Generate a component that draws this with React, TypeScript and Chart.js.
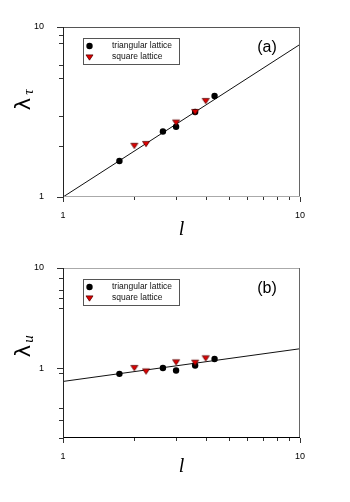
import React, { useEffect, useRef } from "react";
import { Chart, registerables } from "chart.js";

Chart.register(...registerables);

// Data
const lTriangular = [1.73, 2.64, 3.0, 3.61, 4.36];
const lSquare = [2.0, 2.24, 3.0, 3.61, 4.0];
const tauTriangular = [1.63, 2.43, 2.59, 3.16, 3.93];
const tauSquare = [2.0, 2.05, 2.74, 3.16, 3.67];
const uTriangular = [0.875, 1.0, 0.945, 1.06, 1.23];
const uSquare = [1.0, 0.925, 1.14, 1.13, 1.25];
const fitL = [1, 10];
const fitTau = [1.0, 7.9];
const fitU = [0.735, 1.56];
const xTicks = [1, 2, 3, 4, 5, 6, 7, 8, 9, 10];
const yTicksA = [1, 2, 3, 5, 6, 8, 9, 10];
const yTicksB = [0.2, 0.3, 0.4, 0.9, 1, 4, 5, 6, 8, 10];
const legendLabels = ["triangular lattice", "square lattice"];

const FONT = "'Liberation Sans', Arial, sans-serif";

type Panel = {
  height: number;
  yMin: number;
  yMax: number;
  yTicks: number[];
  tri: number[];
  sq: number[];
  fit: number[];
  padTop: number;
  xHeight: number;
  tag: string;
  sub: string;
  topColor: string;
  bottomColor: string;
  xTitleOff: number;
  yTitleY: number;
};

const panels: Panel[] = [
  {
    height: 250, yMin: 1, yMax: 10, yTicks: yTicksA, tri: tauTriangular, sq: tauSquare, fit: fitTau,
    padTop: 27, xHeight: 53, tag: "(a)", sub: "τ", topColor: "#555", bottomColor: "#aaa", xTitleOff: 33, yTitleY: 100,
  },
  {
    height: 252, yMin: 0.2, yMax: 10, yTicks: yTicksB, tri: uTriangular, sq: uSquare, fit: fitU,
    padTop: 18, xHeight: 64, tag: "(b)", sub: "u", topColor: "#aaa", bottomColor: "#000", xTitleOff: 29, yTitleY: 97,
  },
];

function drawTriangle(ctx: CanvasRenderingContext2D, x: number, y: number, r: number) {
  ctx.beginPath();
  ctx.moveTo(x - r, y - r * 0.6);
  ctx.lineTo(x + r, y - r * 0.6);
  ctx.lineTo(x, y + r * 0.9);
  ctx.closePath();
  ctx.fillStyle = "#e00000";
  ctx.fill();
  ctx.strokeStyle = "#500";
  ctx.lineWidth = 0.8;
  ctx.stroke();
}

function makePlugin(p: Panel) {
  return {
    id: "decor",
    afterDraw(chart: any) {
      const ctx: CanvasRenderingContext2D = chart.ctx;
      const a = chart.chartArea;
      const xs = chart.scales.x;
      const ys = chart.scales.y;
      ctx.save();
      // frame
      ctx.lineWidth = 1;
      ctx.strokeStyle = p.topColor;
      ctx.beginPath(); ctx.moveTo(a.left, a.top + 0.5); ctx.lineTo(a.right, a.top + 0.5); ctx.stroke();
      ctx.strokeStyle = "#666";
      ctx.beginPath(); ctx.moveTo(a.right - 0.5, a.top); ctx.lineTo(a.right - 0.5, a.bottom); ctx.stroke();
      ctx.strokeStyle = p.bottomColor;
      ctx.beginPath(); ctx.moveTo(a.left, a.bottom - 0.5); ctx.lineTo(a.right, a.bottom - 0.5); ctx.stroke();
      ctx.strokeStyle = "#222";
      ctx.beginPath(); ctx.moveTo(a.left + 0.5, a.top); ctx.lineTo(a.left + 0.5, a.bottom); ctx.stroke();
      // ticks
      ctx.strokeStyle = "#333";
      for (const v of xTicks) {
        const px = Math.round(xs.getPixelForValue(v)) + 0.5;
        const len = v === 1 || v === 10 ? 5 : 3;
        ctx.beginPath(); ctx.moveTo(px, a.bottom); ctx.lineTo(px, a.bottom + len); ctx.stroke();
      }
      for (const v of p.yTicks) {
        const py = Math.round(ys.getPixelForValue(v)) + 0.5;
        const len = v === 1 || v === 10 ? 6 : 4;
        ctx.beginPath(); ctx.moveTo(a.left, py); ctx.lineTo(a.left - len, py); ctx.stroke();
      }
      // x title
      ctx.fillStyle = "#000";
      ctx.font = "italic 20px 'Liberation Serif', serif";
      ctx.textAlign = "center";
      ctx.textBaseline = "middle";
      ctx.fillText("l", (a.left + a.right) / 2, a.bottom + p.xTitleOff);
      // y title
      ctx.save();
      ctx.translate(25, a.top + p.yTitleY - p.padTop);
      ctx.rotate(-Math.PI / 2);
      ctx.font = "21px 'DejaVu Sans', sans-serif";
      ctx.fillText("λ", -4, 0);
      ctx.font = "italic 15px 'Liberation Serif', serif";
      ctx.fillText(p.sub, 8, 4);
      ctx.restore();
      // tag
      ctx.font = "16px " + FONT;
      ctx.fillText(p.tag, 267, a.top + 21);
      // legend
      const lx = 83, ly = a.top + 11;
      ctx.strokeStyle = "#555";
      ctx.strokeRect(lx + 0.5, ly + 0.5, 96, 26);
      ctx.fillStyle = "#000";
      ctx.beginPath(); ctx.arc(89.5, ly + 8, 3.2, 0, Math.PI * 2); ctx.fill();
      drawTriangle(ctx, 89.5, ly + 19, 3.5);
      ctx.fillStyle = "#111";
      ctx.font = "8.5px " + FONT;
      ctx.textAlign = "left";
      ctx.fillText(legendLabels[0], 112, ly + 8);
      ctx.fillText(legendLabels[1], 112, ly + 19);
      ctx.restore();
    },
  };
}

function PanelChart({ p }: { p: Panel }) {
  const ref = useRef<HTMLCanvasElement>(null);
  useEffect(() => {
    if (!ref.current) return;
    const triangleImg = (() => {
      const c = document.createElement("canvas");
      c.width = 10; c.height = 10;
      const cx = c.getContext("2d")!;
      drawTriangle(cx, 5, 4.5, 3.5);
      return c;
    })();
    const chart = new Chart(ref.current, {
      type: "scatter",
      data: {
        datasets: [
          {
            label: legendLabels[1],
            data: lSquare.map((x, i) => ({ x, y: p.sq[i] })),
            pointStyle: triangleImg as any,
            pointRadius: 4,
          },
          {
            label: legendLabels[0],
            data: lTriangular.map((x, i) => ({ x, y: p.tri[i] })),
            pointStyle: "circle",
            pointRadius: 3.2,
            backgroundColor: "#000",
            borderColor: "#000",
            borderWidth: 0,
          },
          {
            type: "line",
            label: "fit",
            data: fitL.map((x, i) => ({ x, y: p.fit[i] })),
            borderColor: "#111",
            borderWidth: 1,
            pointRadius: 0,
            fill: false,
          } as any,
        ],
      },
      options: {
        responsive: false,
        animation: false,
        devicePixelRatio: 1,
        layout: { padding: { top: p.padTop, right: 50, left: 0, bottom: 0 } },
        plugins: { legend: { display: false }, tooltip: { enabled: false } },
        scales: {
          x: {
            type: "logarithmic",
            min: 1,
            max: 10,
            afterBuildTicks: (s: any) => { s.ticks = xTicks.map((v) => ({ value: v })); },
            afterFit: (s: any) => { s.height = p.xHeight; },
            grid: { display: false },
            border: { display: false },
            ticks: {
              autoSkip: false,
              maxRotation: 0,
              padding: 5,
              color: "#000",
              font: { family: FONT, size: 9 },
              callback: (v: any) => (v === 1 || v === 10 ? String(v) : ""),
            },
          },
          y: {
            type: "logarithmic",
            min: p.yMin,
            max: p.yMax,
            afterBuildTicks: (s: any) => { s.ticks = p.yTicks.map((v) => ({ value: v })); },
            afterFit: (s: any) => { s.width = 63; },
            grid: { display: false },
            border: { display: false },
            ticks: {
              autoSkip: false,
              padding: 11,
              color: "#000",
              font: { family: FONT, size: 9 },
              callback: (v: any) => (v === 1 || v === 10 ? String(v) : ""),
            },
          },
        },
      },
      plugins: [makePlugin(p)],
    });
    return () => chart.destroy();
  }, [p]);
  return <canvas ref={ref} width={350} height={p.height} style={{ display: "block", width: 350, height: p.height }} />;
}

export default function App() {
  return (
    <div style={{ position: "absolute", left: 0, top: 0, width: 350, height: 502, background: "#fff" }}>
      {panels.map((p) => (
        <PanelChart key={p.tag} p={p} />
      ))}
    </div>
  );
}
